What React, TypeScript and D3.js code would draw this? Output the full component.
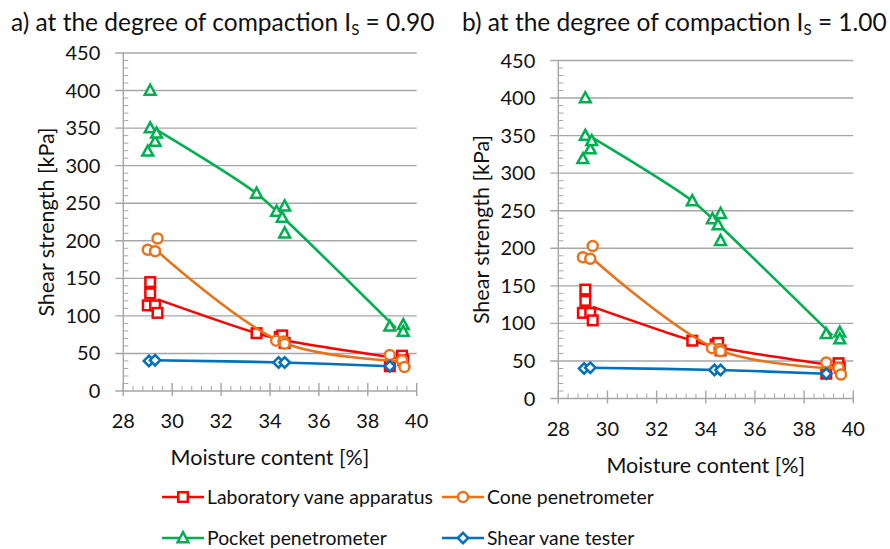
import * as d3 from 'd3';

type Pt = [number, number];

// measured points (moisture %, shear strength kPa)
const labVane: Pt[] = [[29.1, 145], [29.1, 130], [29.0, 114], [29.3, 114], [29.4, 104], [33.45, 77], [34.4, 72], [34.5, 74], [34.6, 64], [39.4, 47], [38.9, 33], [39.45, 41]];
const cone: Pt[] = [[29.0, 188], [29.3, 186], [29.4, 203], [34.25, 67], [34.55, 66], [34.6, 63], [38.9, 48], [39.4, 41], [39.5, 32]];
const pocket: Pt[] = [[29.1, 400], [29.1, 350], [29.0, 319], [29.3, 332], [29.36, 343], [33.45, 263], [34.27, 239], [34.6, 246], [34.5, 231], [34.6, 210], [38.9, 86], [39.45, 88], [39.45, 79]];
const shearVane: Pt[] = [[29.05, 40], [29.3, 41], [34.35, 38], [34.6, 38], [38.9, 33]];

// trend lines through group means
const labVaneLine: Pt[] = [[29.4, 122], [33.45, 77], [34.55, 68], [39.2, 44]];
const coneLine: Pt[] = [[29.4, 186], [34.5, 65], [39.3, 40]];
const pocketLine: Pt[] = [[29.35, 348], [33.45, 263], [34.5, 232], [39.15, 84]];
const shearVaneLine: Pt[] = [[29.2, 41], [34.5, 38], [38.9, 33]];

const xTicks = [28, 30, 32, 34, 36, 38, 40];
const yTicks = [0, 50, 100, 150, 200, 250, 300, 350, 400, 450];
const titles = [
  { pre: 'a) at the degree of compaction I', val: ' = 0.90' },
  { pre: 'b) at the degree of compaction I', val: ' = 1.00' },
];

const FONT = 'Lato, "Open Sans", sans-serif';
const GRID = '#a6a6a6';

const series = [
  { name: 'Laboratory vane apparatus', color: '#ff0000', marker: 'square', pts: labVane, line: labVaneLine },
  { name: 'Cone penetrometer', color: '#e8731a', marker: 'circle', pts: cone, line: coneLine },
  { name: 'Pocket penetrometer', color: '#00b050', marker: 'triangle', pts: pocket, line: pocketLine },
  { name: 'Shear vane tester', color: '#0070c0', marker: 'diamond', pts: shearVane, line: shearVaneLine },
];

const panels = [
  { x0: 123.3, x1: 416.7, y0: 391, y1: 53, titleX: 11 },
  { x0: 558.3, x1: 853.3, y0: 398.5, y1: 60.5, titleX: 462 },
];

function Marker({ kind, x, y, color }: { kind: string; x: number; y: number; color: string }) {
  const sw = 2.5;
  if (kind === 'square') return <rect x={x - 4.8} y={y - 4.8} width={9.6} height={9.6} fill="#fff" stroke={color} strokeWidth={sw} />;
  if (kind === 'circle') return <circle cx={x} cy={y} r={5} fill="#fff" stroke={color} strokeWidth={sw} />;
  if (kind === 'triangle') return <path d={`M${x},${y - 5.8}L${x + 5.4},${y + 4.2}L${x - 5.4},${y + 4.2}Z`} fill="#fff" stroke={color} strokeWidth={sw} />;
  return <path d={`M${x},${y - 5.2}L${x + 5.2},${y}L${x},${y + 5.2}L${x - 5.2},${y}Z`} fill="#fff" stroke={color} strokeWidth={sw} />;
}

function Panel({ p, idx }: { p: typeof panels[0]; idx: number }) {
  const x = d3.scaleLinear().domain([28, 40]).range([p.x0, p.x1]);
  const y = d3.scaleLinear().domain([0, 450]).range([p.y0, p.y1]);
  const line = d3.line<Pt>().x(d => x(d[0])).y(d => y(d[1])).curve(d3.curveCatmullRom.alpha(0.5));
  const minorY = d3.range(0, 451, 10).filter(v => v % 50 !== 0);
  const minorX = d3.range(28, 40.01, 0.4).filter(v => Math.abs(v / 2 - Math.round(v / 2)) > 0.01);
  const t = titles[idx];
  return (
    <g>
      <text x={p.titleX} y={31} fontSize={24.5} fontFamily={FONT} fill="#111">
        {t.pre}<tspan fontSize={15} dy={4}>S</tspan><tspan dy={-4}>{t.val}</tspan>
      </text>
      {yTicks.map(v => (
        <g key={v}>
          <line x1={p.x0 - 8} x2={p.x1} y1={y(v)} y2={y(v)} stroke={GRID} strokeWidth={1.4} />
          <text x={p.x0 - 23} y={y(v)} dy="0.35em" textAnchor="end" fontSize={20} fontFamily={FONT} fill="#111">{v}</text>
        </g>
      ))}
      {minorY.map(v => <line key={v} x1={p.x0} x2={p.x0 + 5} y1={y(v)} y2={y(v)} stroke={GRID} strokeWidth={1} />)}
      <line x1={p.x0} x2={p.x0} y1={p.y0} y2={p.y1} stroke={GRID} strokeWidth={1.4} />
      {minorX.map(v => <line key={v} x1={x(v)} x2={x(v)} y1={p.y0} y2={p.y0 - 5} stroke={GRID} strokeWidth={1} />)}
      {xTicks.map(v => (
        <g key={v}>
          <line x1={x(v)} x2={x(v)} y1={p.y0 + 5} y2={p.y0 - 8} stroke={GRID} strokeWidth={1.4} />
          <text x={x(v)} y={p.y0 + 37} textAnchor="middle" fontSize={20} fontFamily={FONT} fill="#111">{v}</text>
        </g>
      ))}
      <text x={(p.x0 + p.x1) / 2} y={p.y0 + 74} textAnchor="middle" fontSize={21.5} fontFamily={FONT} fill="#111">Moisture content [%]</text>
      <text transform={`translate(${p.x0 - 69},${(p.y0 + p.y1) / 2}) rotate(-90)`} textAnchor="middle" fontSize={21.5} fontFamily={FONT} fill="#111">Shear strength [kPa]</text>
      {series.map(s => (
        <g key={s.name}>
          <path d={line(s.line) || ''} fill="none" stroke={s.color} strokeWidth={2.6} />
          {s.pts.map((d, i) => <Marker key={i} kind={s.marker} x={x(d[0])} y={y(d[1])} color={s.color} />)}
        </g>
      ))}
    </g>
  );
}

export default function App() {
  const legendPos = [
    { lx: 162, ly: 497 },
    { lx: 442, ly: 497 },
    { lx: 162, ly: 538 },
    { lx: 442, ly: 538 },
  ];
  return (
    <svg width={890} height={549} style={{ position: 'absolute', left: 0, top: 0, background: '#fff' }}>
      {panels.map((p, i) => <Panel key={i} p={p} idx={i} />)}
      {series.map((s, i) => {
        const { lx, ly } = legendPos[i];
        return (
          <g key={s.name}>
            <line x1={lx} x2={lx + 42} y1={ly} y2={ly} stroke={s.color} strokeWidth={2.6} />
            <Marker kind={s.marker} x={lx + 21} y={ly} color={s.color} />
            <text x={lx + 45} y={ly} dy="0.35em" fontSize={19.4} fontFamily={FONT} fill="#111">{s.name}</text>
          </g>
        );
      })}
    </svg>
  );
}
